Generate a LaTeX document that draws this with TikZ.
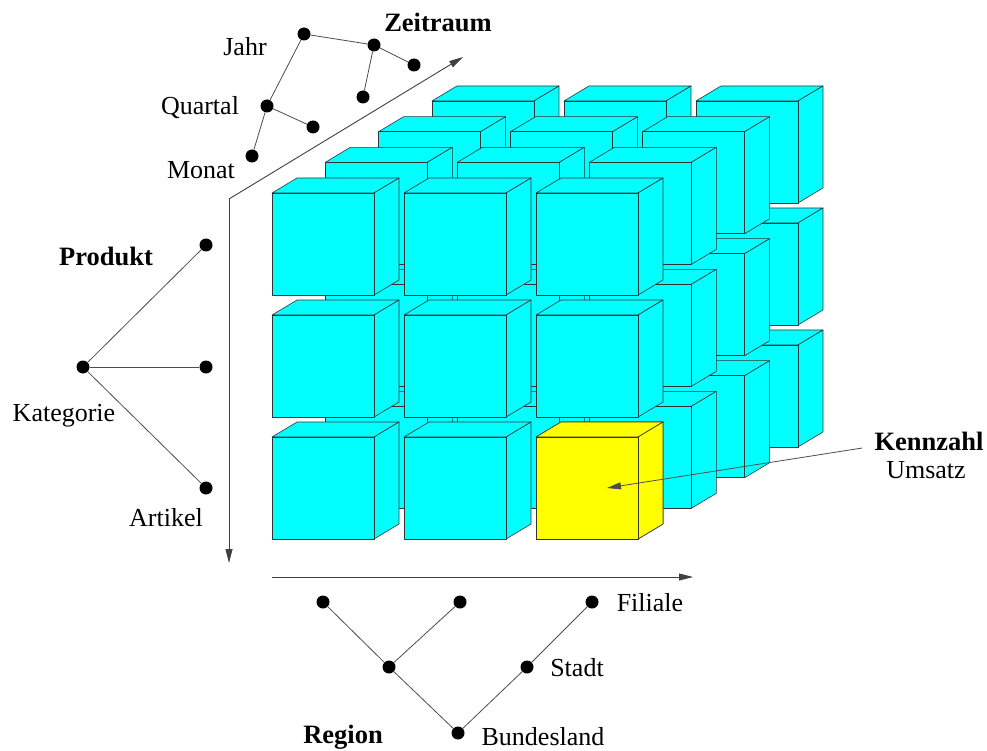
\documentclass[tikz,border=0pt]{standalone}
\usepackage{fontspec}
\setmainfont{Liberation Serif}
\usetikzlibrary{arrows.meta}
\tikzset{
  dot/.style={circle,fill=black,inner sep=0pt,minimum size=13pt},
  conn/.style={draw=black!70,line width=0.8pt},
  axisarrow/.style={draw=black!75,line width=0.9pt,-{Triangle[length=14pt,width=7pt]}},
  lbl/.style={inner sep=0pt,font=\fontsize{26}{31}\selectfont},
  blbl/.style={inner sep=0pt,font=\fontsize{26.5}{31}\selectfont\bfseries},
  cubeedge/.style={draw=black!80,line width=0.6pt,line join=round},
}
\newcommand\mycube[3]{%
  \filldraw[cubeedge,fill=#3] (#1,#2) -- ++(25,-15) -- ++(102,0) -- ++(-25,15) -- cycle;
  \filldraw[cubeedge,fill=#3] (#1+102,#2) -- ++(25,-15) -- ++(0,102) -- ++(-25,15) -- cycle;
  \filldraw[cubeedge,fill=#3] (#1,#2) rectangle ++(102,102);
}
\definecolor{cubecyan}{RGB}{0,255,255}
\definecolor{cubeyellow}{RGB}{255,255,0}
\begin{document}
\begin{tikzpicture}[x=1pt,y=-1pt]
\useasboundingbox (0,0) rectangle (987,751);

% cubes, back to front
\foreach \l in {3,2,1,0}{
  \foreach \r in {0,1,2}{
    \foreach \c in {0,1,2}{
      \pgfmathsetmacro\cx{272+132*\c+53.33*\l}
      \pgfmathsetmacro\cy{193+122*\r-30.67*\l}
      \mycube{\cx}{\cy}{cubecyan}
    }
  }
}
\mycube{536}{437}{cubeyellow}

% axes
\coordinate (corner) at (229,199);
\coordinate (ztip) at (463,57);
\coordinate (ptip) at (229,563);
\coordinate (rstart) at (272,577);
\coordinate (rtip) at (693,577);
\draw[axisarrow] (corner) -- (ztip);
\draw[axisarrow] (corner) -- (ptip);
\draw[axisarrow] (rstart) -- (rtip);

% Zeitraum tree
\node[dot] (jahr) at (304,34) {};
\node[dot] (j2) at (374,45) {};
\node[dot] (j2a) at (414,65) {};
\node[dot] (j2b) at (363,97) {};
\node[dot] (quartal) at (267,106) {};
\node[dot] (q2) at (313,127) {};
\node[dot] (monat) at (252,156) {};
\draw[conn] (jahr) -- (j2);
\draw[conn] (j2) -- (j2a);
\draw[conn] (j2) -- (j2b);
\draw[conn] (jahr) -- (quartal);
\draw[conn] (quartal) -- (q2);
\draw[conn] (quartal) -- (monat);
\node[lbl] (tjahr) at (245,47) {Jahr};
\node[lbl] (tquartal) at (200,108) {Quartal};
\node[lbl] (tmonat) at (201,170) {Monat};
\node[blbl] (tzeit) at (438,22) {Zeitraum};

% Produkt tree
\node[dot] (kat) at (83,367) {};
\node[dot] (p1) at (206,245) {};
\node[dot] (p2) at (206,367) {};
\node[dot] (p3) at (206,488) {};
\draw[conn] (kat) -- (p1);
\draw[conn] (kat) -- (p2);
\draw[conn] (kat) -- (p3);
\node[blbl] (tprod) at (106,256) {Produkt};
\node[lbl] (tkat) at (64,416) {Kategorie};
\node[lbl] (tart) at (166,518) {Artikel};

% Region tree
\node[dot] (f1) at (323,602) {};
\node[dot] (f2) at (460,602) {};
\node[dot] (f3) at (592,602) {};
\node[dot] (s1) at (389,667) {};
\node[dot] (s2) at (527,667) {};
\node[dot] (bl) at (458,733) {};
\draw[conn] (f1) -- (s1);
\draw[conn] (f2) -- (s1);
\draw[conn] (s1) -- (bl);
\draw[conn] (bl) -- (s2);
\draw[conn] (s2) -- (f3);
\node[lbl] (tfil) at (650,603) {Filiale};
\node[lbl] (tstadt) at (577,668) {Stadt};
\node[lbl] (tbund) at (543,737) {Bundesland};
\node[blbl] (treg) at (343,737) {Region};

% Kennzahl
\node[blbl] (kz) at (929,441) {Kennzahl};
\node[lbl] (ums) at (926,470) {Umsatz};
\coordinate (kztip) at (607,488);
\draw[conn,-{Triangle[length=14pt,width=7pt]}] ([shift={(-12,7)}]kz.west) -- (kztip);
\end{tikzpicture}
\end{document}
